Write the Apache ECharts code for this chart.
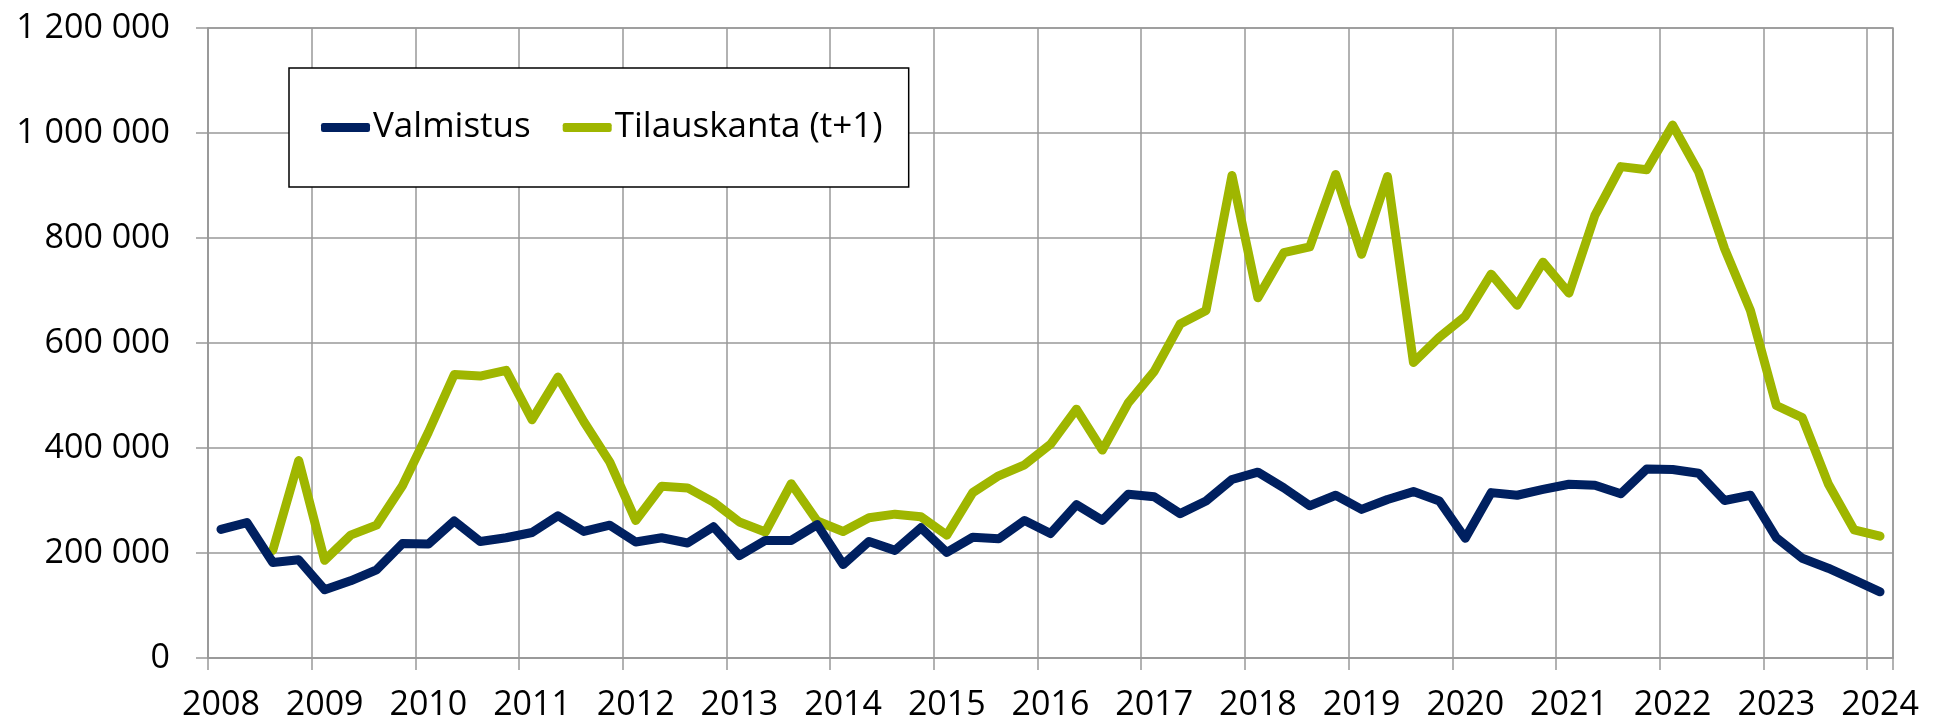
<!DOCTYPE html>
<html>
<head>
<meta charset="utf-8">
<script src="https://cdn.jsdelivr.net/npm/echarts@6/dist/echarts.min.js"></script>
<style>
    html, body { margin: 0; padding: 0; background: #fff; }
    #chart { width: 1942px; height: 727px; }
</style>
</head>
<body>
<div id="chart"></div>
<script>
// year tick labels, one per 4 quarters
var years = ['2008', '2009', '2010', '2011', '2012', '2013', '2014', '2015', '2016',
             '2017', '2018', '2019', '2020', '2021', '2022', '2023', '2024'];
var quarters = ['Q1', 'Q2', 'Q3', 'Q4'];

var seriesNames = ['Valmistus', 'Tilauskanta (t+1)'];

// 2008Q1 .. 2024Q1
var valmistus = [
    245000, 258000, 182000, 187000, 130000, 147000, 168000, 218000,
    217000, 261000, 222000, 229000, 239000, 271000, 241000, 253000,
    221000, 229000, 219000, 250000, 195000, 224000, 224000, 254000,
    178000, 222000, 205000, 248000, 201000, 230000, 227000, 262000,
    237000, 292000, 262000, 312000, 307000, 275000, 299000, 340000,
    354000, 324000, 290000, 310000, 283000, 302000, 317000, 299000,
    228000, 315000, 310000, 321000, 331000, 329000, 313000, 360000,
    359000, 352000, 300000, 310000, 229000, 190000, 171000, 149000,
    126000
];

var tilauskanta = [
    null, null, 205000, 376000, 186000, 234000, 253000, 328000,
    430000, 540000, 537000, 548000, 454000, 535000, 450000, 373000,
    262000, 327000, 324000, 297000, 259000, 240000, 332000, 261000,
    241000, 267000, 274000, 269000, 234000, 315000, 347000, 368000,
    407000, 474000, 396000, 486000, 546000, 636000, 662000, 919000,
    686000, 772000, 783000, 921000, 769000, 917000, 563000, 611000,
    651000, 731000, 672000, 754000, 695000, 843000, 936000, 930000,
    1015000, 926000, 780000, 662000, 481000, 458000, 332000, 244000,
    232000
];

var categories = [];
for (var y = 0; y < years.length; y++) {
    for (var q = 0; q < 4; q++) {
        if (categories.length < valmistus.length) {
            categories.push(years[y] + quarters[q]);
        }
    }
}

var gridColor = '#999999';
var fontFamily = '"Open Sans", "Noto Sans", sans-serif';

function spaced(v) {
    return String(v).replace(/\B(?=(\d{3})+(?!\d))/g, ' ');
}

var myChart = echarts.init(document.getElementById('chart'), null, { renderer: 'canvas' });

var option = {
    animation: false,
    backgroundColor: '#fff',
    textStyle: { fontFamily: fontFamily },
    grid: {
        left: 208,
        right: 49,
        top: 28,
        bottom: 69,
        show: true,
        borderColor: gridColor,
        borderWidth: 1.5
    },
    legend: {
        left: 289,
        top: 68,
        padding: [42, 26, 42, 32],
        itemGap: 32,
        itemWidth: 49,
        itemHeight: 9,
        backgroundColor: '#fff',
        borderColor: '#000',
        borderWidth: 1.5,
        borderRadius: 0,
        textStyle: { fontSize: 35, color: '#000', fontFamily: fontFamily, padding: [0, 0, 0, -2] },
        data: [
            { name: seriesNames[0], icon: 'roundRect' },
            { name: seriesNames[1], icon: 'roundRect' }
        ]
    },
    xAxis: {
        type: 'category',
        data: categories,
        boundaryGap: true,
        axisLine: { lineStyle: { color: gridColor, width: 1.5 } },
        axisTick: { show: true, interval: 3, length: 12, lineStyle: { color: gridColor, width: 1.5 } },
        splitLine: { show: true, interval: 3, lineStyle: { color: gridColor, width: 1.5 } },
        axisLabel: {
            interval: 3,
            margin: 30,
            fontSize: 34,
            color: '#000',
            fontFamily: fontFamily,
            formatter: function (value) { return value.substring(0, 4); }
        }
    },
    yAxis: {
        type: 'value',
        min: 0,
        max: 1200000,
        interval: 200000,
        axisLine: { show: true, lineStyle: { color: gridColor, width: 1.5 } },
        axisTick: { show: true, length: 12, lineStyle: { color: gridColor, width: 1.5 } },
        splitLine: { show: true, lineStyle: { color: gridColor, width: 1.5 } },
        axisLabel: {
            margin: 38,
            fontSize: 34,
            color: '#000',
            fontFamily: fontFamily,
            formatter: spaced
        }
    },
    series: [
        {
            name: seriesNames[0],
            type: 'line',
            data: valmistus,
            showSymbol: false,
            symbol: 'none',
            color: '#002060',
            lineStyle: { width: 9, color: '#002060', cap: 'round', join: 'round' },
            z: 3
        },
        {
            name: seriesNames[1],
            type: 'line',
            data: tilauskanta,
            showSymbol: false,
            symbol: 'none',
            color: '#9fb600',
            lineStyle: { width: 9, color: '#9fb600', cap: 'round', join: 'round' },
            z: 2
        }
    ]
};

myChart.setOption(option);
</script>
</body>
</html>
